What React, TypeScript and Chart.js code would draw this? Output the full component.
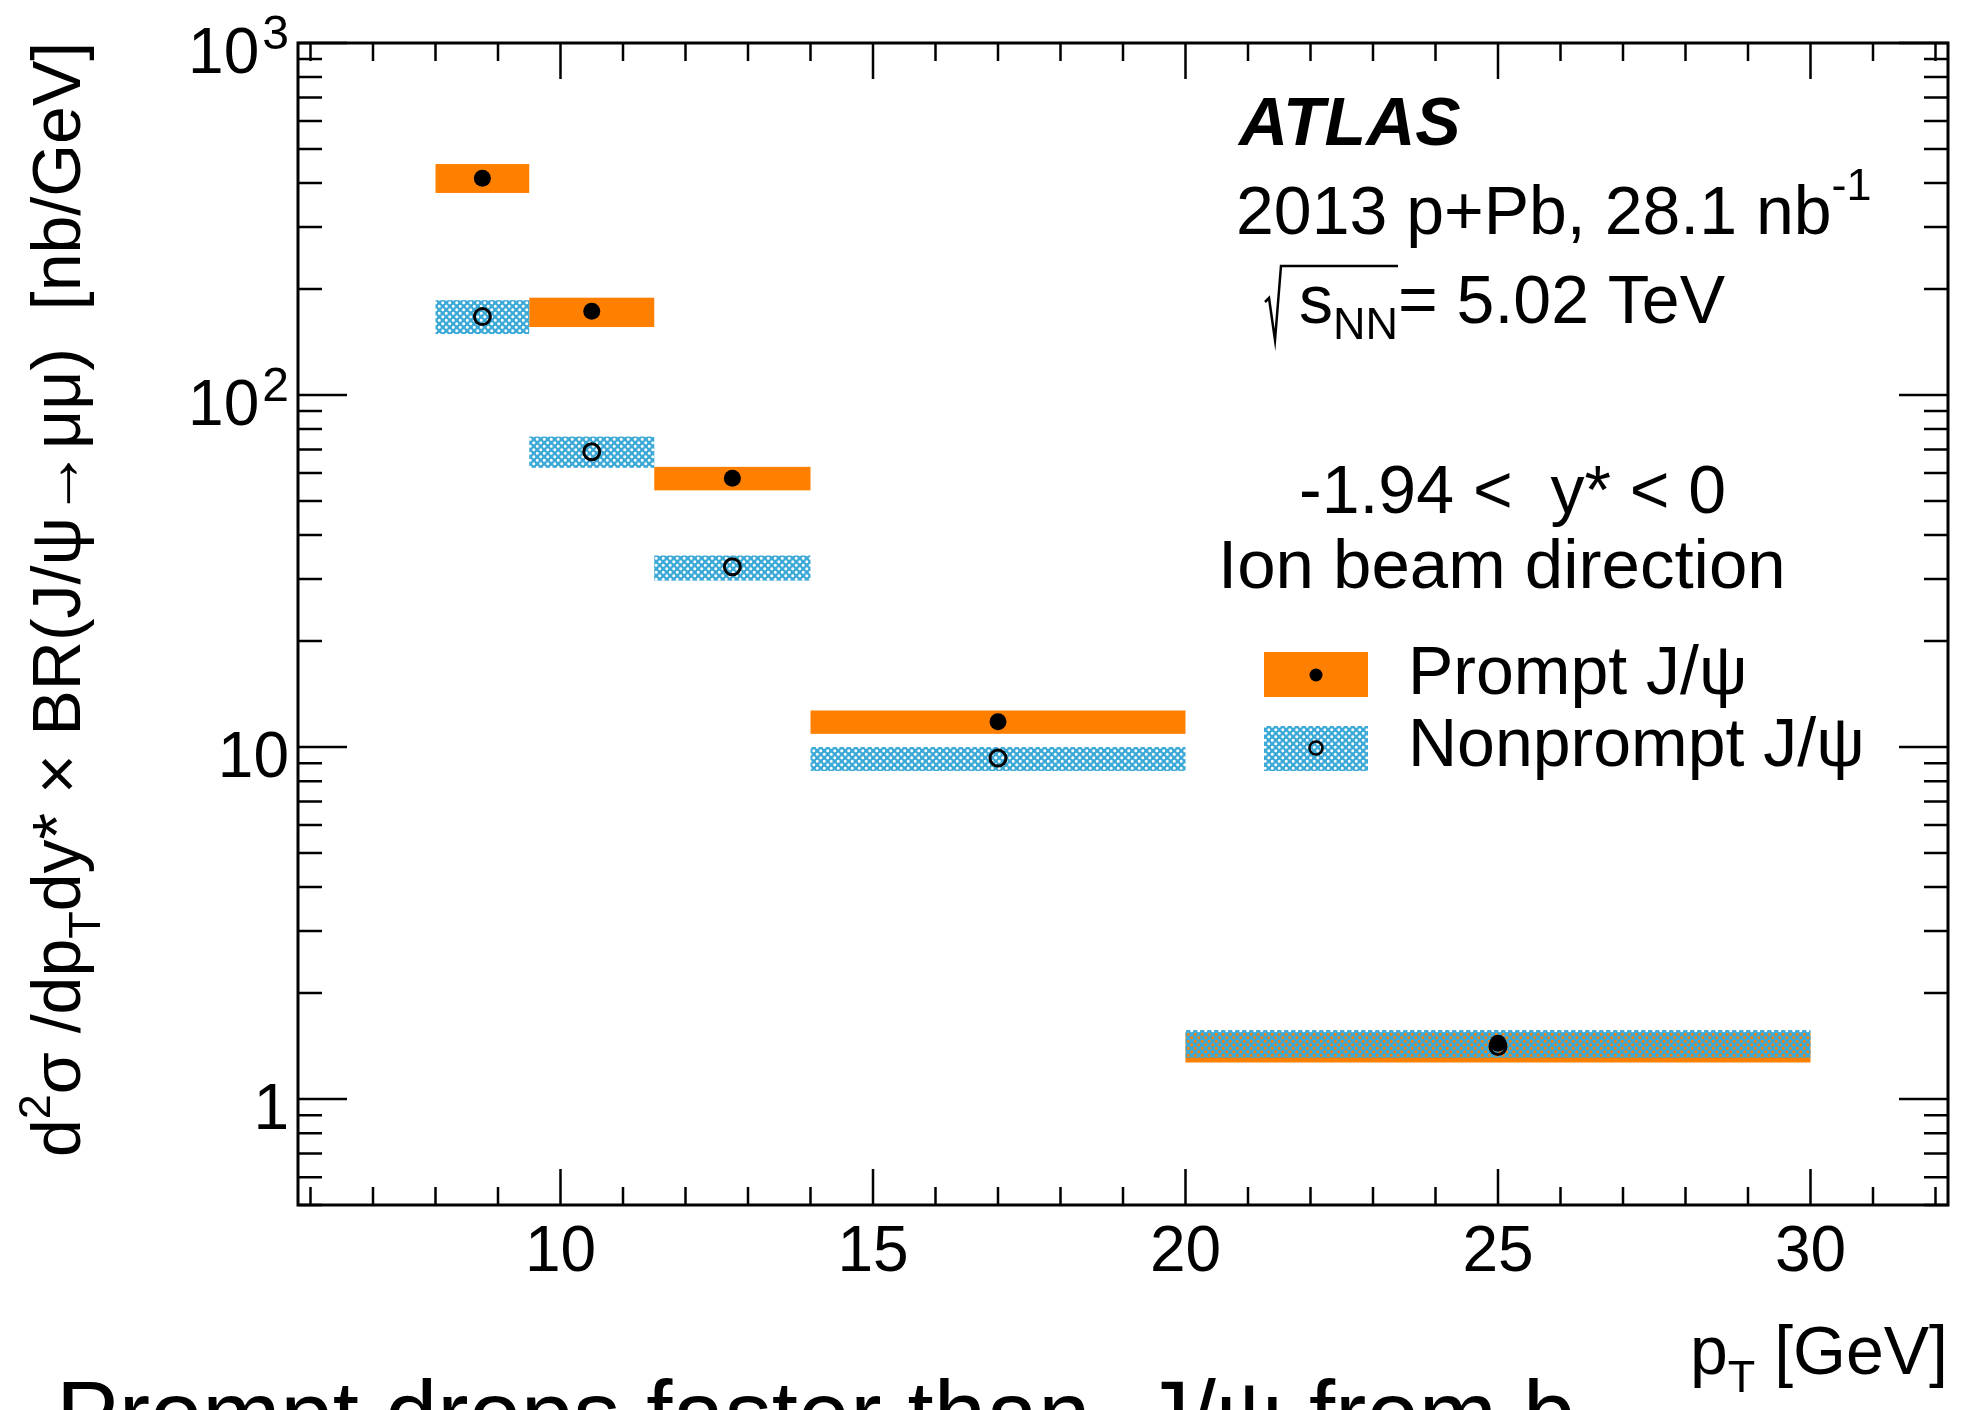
import React, { useEffect, useRef } from "react";
import { Chart, registerables } from "chart.js";

Chart.register(...registerables);

// ---------- data ----------
const BIN_LOW = [8, 9.5, 11.5, 14, 20];
const BIN_HIGH = [9.5, 11.5, 14, 20, 30];
const BIN_CENTER = [8.75, 10.5, 12.75, 17, 25];

const PROMPT = [413, 173, 58, 11.8, 1.44];
const PROMPT_LO = [375, 156, 53.6, 10.9, 1.27];
const PROMPT_HI = [453, 189, 62.5, 12.7, 1.54];

const NONPROMPT = [167, 69, 32.5, 9.3, 1.41];
const NONPROMPT_LO = [149, 62.1, 29.7, 8.55, 1.31];
const NONPROMPT_HI = [186, 76.2, 35, 10.0, 1.57];

const X_MIN = 5.8;
const X_MAX = 32.2;
const Y_MIN = 0.5;
const Y_MAX = 1000;

const X_MAJOR = [10, 15, 20, 25, 30];
const X_MAJOR_LABELS = ["10", "15", "20", "25", "30"];
const X_MINOR = [6, 7, 8, 9, 11, 12, 13, 14, 16, 17, 18, 19, 21, 22, 23, 24, 26, 27, 28, 29, 31, 32];

const Y_MAJOR = [1, 10, 100, 1000];
const Y_MAJOR_BASE = ["1", "10", "10", "10"];
const Y_MAJOR_EXP = ["", "", "2", "3"];
const Y_MINOR = [
  0.5, 0.6, 0.7, 0.8, 0.9,
  2, 3, 4, 5, 6, 7, 8, 9,
  20, 30, 40, 50, 60, 70, 80, 90,
  200, 300, 400, 500, 600, 700, 800, 900,
];

const LEGEND_LABELS = ["Prompt J/\u03c8", "Nonprompt J/\u03c8"];

// ---------- styles ----------
const ORANGE = "#ff8000";
const BLUE = "#3da9d6";
const FONT = '"Liberation Sans", Arial, Helvetica, sans-serif';

type Run = { t: string; size: number; dy?: number; dx?: number; style?: string };

function runsWidth(ctx: CanvasRenderingContext2D, runs: Run[]) {
  let w = 0;
  for (const r of runs) {
    ctx.font = `${r.style ?? ""} ${r.size}px ${FONT}`;
    w += ctx.measureText(r.t).width + (r.dx ?? 0);
  }
  return w;
}

function drawRuns(ctx: CanvasRenderingContext2D, x: number, y: number, runs: Run[]) {
  let cx = x;
  for (const r of runs) {
    ctx.font = `${r.style ?? ""} ${r.size}px ${FONT}`;
    cx += r.dx ?? 0;
    ctx.fillText(r.t, cx, y + (r.dy ?? 0));
    cx += ctx.measureText(r.t).width;
  }
  return cx;
}

function makeHatch(ctx: CanvasRenderingContext2D) {
  const c = document.createElement("canvas");
  c.width = 7;
  c.height = 7;
  const g = c.getContext("2d")!;
  g.fillStyle = BLUE;
  g.fillRect(0, 0, 7, 7);
  g.globalCompositeOperation = "destination-out";
  g.beginPath();
  g.arc(1.75, 1.75, 1.5, 0, Math.PI * 2);
  g.moveTo(5.25 + 1.5, 5.25);
  g.arc(5.25, 5.25, 1.5, 0, Math.PI * 2);
  g.fill();
  return ctx.createPattern(c, "repeat")!;
}

const atlasPlugin = {
  id: "atlasStyle",
  beforeDatasetsDraw(chart: any) {
    const { ctx, scales } = chart;
    const x = scales.x;
    const y = scales.y;
    ctx.save();
    ctx.fillStyle = ORANGE;
    for (let i = 0; i < BIN_LOW.length; i++) {
      const x0 = x.getPixelForValue(BIN_LOW[i]);
      const x1 = x.getPixelForValue(BIN_HIGH[i]);
      const y0 = y.getPixelForValue(PROMPT_HI[i]);
      const y1 = y.getPixelForValue(PROMPT_LO[i]);
      ctx.fillRect(x0, y0, x1 - x0, y1 - y0);
    }
    ctx.fillStyle = makeHatch(ctx);
    for (let i = 0; i < BIN_LOW.length; i++) {
      const x0 = x.getPixelForValue(BIN_LOW[i]);
      const x1 = x.getPixelForValue(BIN_HIGH[i]);
      const y0 = y.getPixelForValue(NONPROMPT_HI[i]);
      const y1 = y.getPixelForValue(NONPROMPT_LO[i]);
      ctx.fillRect(x0, y0, x1 - x0, y1 - y0);
    }
    ctx.restore();
  },
  afterDatasetsDraw(chart: any) {
    const { ctx, chartArea, scales } = chart;
    const x = scales.x;
    const y = scales.y;
    const { left, right, top, bottom } = chartArea;
    ctx.save();
    ctx.strokeStyle = "#000";
    ctx.fillStyle = "#000";

    // ticks
    ctx.lineWidth = 2.5;
    ctx.beginPath();
    const xTick = (v: number, len: number) => {
      const px = x.getPixelForValue(v);
      ctx.moveTo(px, bottom);
      ctx.lineTo(px, bottom - len);
      ctx.moveTo(px, top);
      ctx.lineTo(px, top + len);
    };
    const yTick = (v: number, len: number) => {
      const py = y.getPixelForValue(v);
      ctx.moveTo(left, py);
      ctx.lineTo(left + len, py);
      ctx.moveTo(right, py);
      ctx.lineTo(right - len, py);
    };
    X_MAJOR.forEach((v) => xTick(v, 36));
    X_MINOR.forEach((v) => xTick(v, 18));
    Y_MAJOR.forEach((v) => yTick(v, 49));
    Y_MINOR.forEach((v) => yTick(v, 24));
    ctx.stroke();

    // frame
    ctx.lineWidth = 3;
    ctx.strokeRect(left, top, right - left, bottom - top);

    // x tick labels
    ctx.textBaseline = "alphabetic";
    ctx.textAlign = "center";
    ctx.font = `64px ${FONT}`;
    X_MAJOR.forEach((v, i) => {
      ctx.fillText(X_MAJOR_LABELS[i], x.getPixelForValue(v), bottom + 66);
    });

    // y tick labels
    ctx.textAlign = "left";
    Y_MAJOR.forEach((v, i) => {
      const runs: Run[] = [{ t: Y_MAJOR_BASE[i], size: 64 }];
      if (Y_MAJOR_EXP[i]) runs.push({ t: Y_MAJOR_EXP[i], size: 48, dy: -24, dx: 3 });
      const w = runsWidth(ctx, runs);
      const py = y.getPixelForValue(v);
      drawRuns(ctx, left - 9 - w, py + 30, runs);
    });

    // x title
    const xt: Run[] = [
      { t: "p", size: 68 },
      { t: "T", size: 45, dy: 18 },
      { t: " [GeV]", size: 68 },
    ];
    drawRuns(ctx, right - runsWidth(ctx, xt), 1374, xt);

    // y title (rotated)
    ctx.save();
    ctx.translate(80, 1157);
    ctx.rotate(-Math.PI / 2);
    drawRuns(ctx, 0, 0, [
      { t: "d", size: 68 },
      { t: "2", size: 45, dy: -30 },
      { t: "\u03c3 /dp", size: 68 },
      { t: "T", size: 45, dy: 20 },
      { t: "dy*", size: 68 },
      { t: " \u00d7 BR(J/\u03c8\u2192\u03bc\u03bc)  [nb/GeV]", size: 68 },
    ]);
    ctx.restore();

    // ATLAS label block
    drawRuns(ctx, 1239, 145, [{ t: "ATLAS", size: 68, style: "italic bold" }]);
    drawRuns(ctx, 1236, 234, [
      { t: "2013 p+Pb, 28.1 nb", size: 68 },
      { t: "-1", size: 45, dy: -34 },
    ]);
    // sqrt(s_NN)
    const sx = 1299;
    const sEnd = drawRuns(ctx, sx, 323, [
      { t: "s", size: 68 },
      { t: "NN", size: 45, dy: 16 },
    ]);
    drawRuns(ctx, sEnd, 323, [{ t: "= 5.02 TeV", size: 68 }]);
    ctx.lineWidth = 2.5;
    ctx.beginPath();
    ctx.moveTo(1265, 302);
    ctx.lineTo(1269, 298);
    ctx.lineTo(1275, 340);
    ctx.lineTo(1281, 266);
    ctx.lineTo(sEnd, 266);
    ctx.stroke();

    drawRuns(ctx, 1299, 513, [{ t: "-1.94 <  y* < 0", size: 68 }]);
    drawRuns(ctx, 1218, 588, [{ t: "Ion beam direction", size: 69 }]);

    // legend
    ctx.fillStyle = ORANGE;
    ctx.fillRect(1264, 652, 104, 45);
    ctx.fillStyle = makeHatch(ctx);
    ctx.fillRect(1264, 726, 104, 45);
    ctx.fillStyle = "#000";
    ctx.beginPath();
    ctx.arc(1316, 675, 6.5, 0, Math.PI * 2);
    ctx.fill();
    ctx.lineWidth = 2.5;
    ctx.beginPath();
    ctx.arc(1316, 748, 6.5, 0, Math.PI * 2);
    ctx.stroke();
    drawRuns(ctx, 1408, 694, [{ t: LEGEND_LABELS[0], size: 68 }]);
    drawRuns(ctx, 1408, 766, [{ t: LEGEND_LABELS[1], size: 68 }]);

    // caption cut at the bottom
    drawRuns(ctx, 56, 1447, [{ t: "Prompt drops faster than  J/\u03c8 from b", size: 94 }]);

    ctx.restore();
  },
};

export default function App() {
  const ref = useRef<HTMLCanvasElement | null>(null);

  useEffect(() => {
    if (!ref.current) return;
    const chart = new Chart(ref.current, {
      type: "scatter",
      data: {
        datasets: [
          {
            label: LEGEND_LABELS[0],
            data: BIN_CENTER.map((xv, i) => ({ x: xv, y: PROMPT[i] })),
            pointRadius: 8.5,
            pointBackgroundColor: "#000",
            pointBorderWidth: 0,
            pointBorderColor: "#000",
            showLine: false,
          },
          {
            label: LEGEND_LABELS[1],
            data: BIN_CENTER.map((xv, i) => ({ x: xv, y: NONPROMPT[i] })),
            pointRadius: 8,
            pointBackgroundColor: "rgba(0,0,0,0)",
            pointBorderColor: "#000",
            pointBorderWidth: 3,
            showLine: false,
          },
        ],
      },
      options: {
        responsive: false,
        maintainAspectRatio: false,
        devicePixelRatio: 1,
        animation: false,
        layout: { padding: { left: 298, top: 43, right: 14, bottom: 205 } },
        plugins: {
          legend: { display: false },
          tooltip: { enabled: false },
        },
        events: [],
        scales: {
          x: { type: "linear", min: X_MIN, max: X_MAX, display: false },
          y: { type: "logarithmic", min: Y_MIN, max: Y_MAX, display: false },
        },
      },
      plugins: [atlasPlugin],
    });
    return () => chart.destroy();
  }, []);

  return (
    <div style={{ position: "fixed", left: 0, top: 0, width: 1962, height: 1410, background: "#fff" }}>
      <canvas ref={ref} width={1962} height={1410} style={{ display: "block", width: 1962, height: 1410 }} />
    </div>
  );
}
